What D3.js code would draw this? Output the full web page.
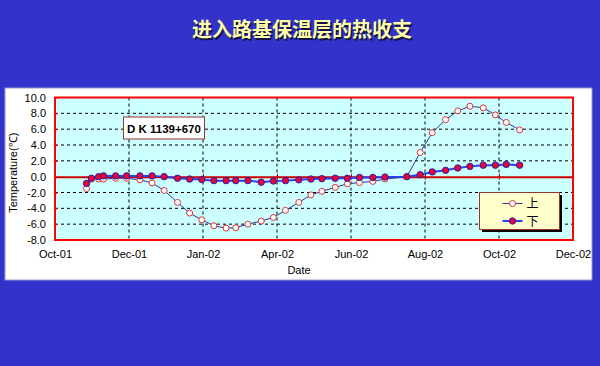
<!DOCTYPE html>
<html>
<head>
<meta charset="utf-8">
<script src="https://cdn.jsdelivr.net/npm/d3@7"></script>
<style>
  html, body { margin: 0; padding: 0; background: #3333cc; }
  svg { display: block; }
</style>
</head>
<body>
<div id="chart"></div>
<script>
// [1] DATA
const sampleDates = [
  '2001-10-27', '2001-10-31', '2001-11-06', '2001-11-10', '2001-11-20', '2001-11-29',
  '2001-12-10', '2001-12-20', '2001-12-30', '2002-01-10', '2002-01-20', '2002-01-30',
  '2002-02-09', '2002-02-19', '2002-02-27', '2002-03-09', '2002-03-20', '2002-03-30',
  '2002-04-09', '2002-04-20', '2002-04-30', '2002-05-09', '2002-05-20', '2002-05-30',
  '2002-06-09', '2002-06-20', '2002-06-30', '2002-07-18', '2002-07-29', '2002-08-08',
  '2002-08-19', '2002-08-29', '2002-09-08', '2002-09-19', '2002-09-29', '2002-10-08',
  '2002-10-19'
];
const upperValues = [
  -1.5, -0.3, -0.3, -0.3, -0.2, -0.2,
  -0.4, -0.8, -1.75, -3.25, -4.6, -5.45,
  -6.2, -6.5, -6.45, -6.0, -5.6, -5.15,
  -4.25, -3.25, -2.3, -1.85, -1.35, -0.9,
  -0.75, -0.6, -0.3, 0.0, 3.05, 5.55,
  7.2, 8.3, 8.9, 8.7, 7.8, 6.85,
  5.9
];
const lowerValues = [
  -0.85, -0.2, 0.0, 0.1, 0.1, 0.1,
  0.1, 0.1, 0.0, -0.2, -0.3, -0.35,
  -0.5, -0.5, -0.5, -0.5, -0.7, -0.55,
  -0.5, -0.4, -0.3, -0.25, -0.2, -0.2,
  -0.1, -0.1, -0.05, 0.0, 0.25, 0.6,
  0.8, 1.1, 1.3, 1.45, 1.45, 1.55,
  1.45
];
const seriesNames = ['上', '下'];
const xTickDates = ['2001-10-01', '2001-12-01', '2002-01-31', '2002-04-02', '2002-06-02', '2002-08-02', '2002-10-02', '2002-12-02'];
const yTicks = [-8, -6, -4, -2, 0, 2, 4, 6, 8, 10];
const titleText = '进入路基保温层的热收支';
const stationLabel = 'D K 1139+670';

// [2] DIMENSIONS
const width = 600;
const height = 366;
const plot = { left: 55, right: 573, top: 97.5, bottom: 240 };

const parseDate = d3.utcParse('%Y-%m-%d');
const fmtDate = d3.utcFormat('%b-%y');

const svg = d3.select('#chart').append('svg')
  .attr('width', width)
  .attr('height', height);

svg.append('rect').attr('width', width).attr('height', height).attr('fill', '#3333cc');

// title with shadow
svg.append('text')
  .attr('x', 302).attr('y', 37)
  .attr('text-anchor', 'middle')
  .attr('font-family', '"Noto Sans CJK SC", sans-serif')
  .attr('font-size', 20).attr('font-weight', 'bold')
  .attr('fill', '#111144')
  .text(titleText)
  .attr('transform', 'translate(1.5,1.5)');
svg.append('text')
  .attr('x', 302).attr('y', 37)
  .attr('text-anchor', 'middle')
  .attr('font-family', '"Noto Sans CJK SC", sans-serif')
  .attr('font-size', 20).attr('font-weight', 'bold')
  .attr('fill', '#ffffaa')
  .text(titleText);

// white chart panel
svg.append('rect')
  .attr('x', 5).attr('y', 88)
  .attr('width', 587).attr('height', 192)
  .attr('fill', '#ffffff')
  .attr('stroke', '#9999cc').attr('stroke-width', 1);

// [3] SCALES
const xScale = d3.scaleUtc()
  .domain([parseDate(xTickDates[0]), parseDate(xTickDates[xTickDates.length - 1])])
  .range([plot.left, plot.right]);
const yScale = d3.scaleLinear()
  .domain([-8, 10])
  .range([plot.bottom, plot.top]);

// plot background
svg.append('rect')
  .attr('x', plot.left).attr('y', plot.top)
  .attr('width', plot.right - plot.left).attr('height', plot.bottom - plot.top)
  .attr('fill', '#ccffff');

// gridlines
const grid = svg.append('g');
grid.selectAll('.hg').data(yTicks.filter(d => d !== 0 && d !== 10 && d !== -8)).join('line')
  .attr('x1', plot.left).attr('x2', plot.right)
  .attr('y1', d => yScale(d)).attr('y2', d => yScale(d))
  .attr('stroke', '#000').attr('stroke-width', 1).attr('stroke-dasharray', '3,3');
grid.selectAll('.vg').data(xTickDates.slice(1, -1).map(parseDate)).join('line')
  .attr('x1', d => xScale(d)).attr('x2', d => xScale(d))
  .attr('y1', plot.top).attr('y2', plot.bottom)
  .attr('stroke', '#000').attr('stroke-width', 1).attr('stroke-dasharray', '3,3');

// zero axis line with ticks
const xAxis = d3.axisBottom(xScale)
  .tickValues(xTickDates.map(parseDate))
  .tickFormat('')
  .tickSize(3)
  .tickSizeOuter(0);
const zeroAxis = svg.append('g')
  .attr('transform', `translate(0,${yScale(0)})`)
  .call(xAxis);
zeroAxis.select('.domain').attr('stroke', '#cc0000').attr('stroke-width', 2);
zeroAxis.selectAll('.tick line').attr('stroke', '#cc0000').attr('y1', -3).attr('y2', 3);

// plot border
svg.append('rect')
  .attr('x', plot.left).attr('y', plot.top)
  .attr('width', plot.right - plot.left).attr('height', plot.bottom - plot.top)
  .attr('fill', 'none')
  .attr('stroke', '#ff0000').attr('stroke-width', 2);

// y axis
const yAxis = d3.axisLeft(yScale)
  .tickValues(yTicks)
  .tickFormat(d => d.toFixed(1))
  .tickSize(-3)
  .tickPadding(9)
  .tickSizeOuter(0);
const yG = svg.append('g')
  .attr('transform', `translate(${plot.left},0)`)
  .call(yAxis);
yG.select('.domain').remove();
yG.selectAll('.tick line').attr('stroke', '#ff0000');
yG.selectAll('.tick text')
  .attr('font-family', 'Arial, "Liberation Sans", sans-serif')
  .attr('font-size', 11).attr('fill', '#000');

// x axis labels
const xLab = svg.append('g')
  .attr('transform', `translate(0,${plot.bottom})`)
  .call(d3.axisBottom(xScale)
    .tickValues(xTickDates.map(parseDate))
    .tickFormat(fmtDate)
    .tickSize(0)
    .tickPadding(10));
xLab.select('.domain').remove();
xLab.selectAll('.tick text')
  .attr('font-family', 'Arial, "Liberation Sans", sans-serif')
  .attr('font-size', 11).attr('fill', '#000');

// axis titles
svg.append('text')
  .attr('x', 299).attr('y', 274)
  .attr('text-anchor', 'middle')
  .attr('font-family', 'Arial, "Liberation Sans", sans-serif')
  .attr('font-size', 11).attr('fill', '#000')
  .text('Date');
svg.append('text')
  .attr('transform', `translate(17,${(plot.top + plot.bottom) / 2 + 4}) rotate(-90)`)
  .attr('text-anchor', 'middle')
  .attr('font-family', 'Arial, "Liberation Sans", sans-serif')
  .attr('font-size', 11).attr('fill', '#000')
  .text('Temperature(℃)');

// [4] SERIES
const rows = sampleDates.map((d, i) => ({ date: parseDate(d), up: upperValues[i], low: lowerValues[i] }));

const upperLine = d3.line().x(d => xScale(d.date)).y(d => yScale(d.up));
const lowerLine = d3.line().x(d => xScale(d.date)).y(d => yScale(d.low));

svg.append('path').datum(rows)
  .attr('d', upperLine)
  .attr('fill', 'none').attr('stroke', '#333399').attr('stroke-width', 1);
svg.selectAll('.up-dot').data(rows).join('circle')
  .attr('cx', d => xScale(d.date)).attr('cy', d => yScale(d.up))
  .attr('r', 3)
  .attr('fill', '#ffffff').attr('stroke', '#dd3333').attr('stroke-width', 1);

svg.append('path').datum(rows)
  .attr('d', lowerLine)
  .attr('fill', 'none').attr('stroke', '#2244ee').attr('stroke-width', 2);
svg.selectAll('.low-dot').data(rows).join('circle')
  .attr('cx', d => xScale(d.date)).attr('cy', d => yScale(d.low))
  .attr('r', 3.2)
  .attr('fill', '#ee0033').attr('stroke', '#2222aa').attr('stroke-width', 1);

// station label
svg.append('rect')
  .attr('x', 123.5).attr('y', 117).attr('width', 81).attr('height', 22)
  .attr('fill', '#ffffff').attr('stroke', '#993333').attr('stroke-width', 1);
svg.append('text')
  .attr('x', 164).attr('y', 132.5)
  .attr('text-anchor', 'middle')
  .attr('font-family', 'Arial, "Liberation Sans", sans-serif')
  .attr('font-size', 11.5).attr('font-weight', 'bold').attr('fill', '#000')
  .text(stationLabel);

// [5] LEGEND
const legend = svg.append('g').attr('transform', 'translate(479.5,192.5)');
legend.append('rect')
  .attr('x', 2.5).attr('y', 2.5).attr('width', 80).attr('height', 37)
  .attr('fill', '#000');
legend.append('rect')
  .attr('width', 80).attr('height', 37)
  .attr('fill', '#ffffcc').attr('stroke', '#993333').attr('stroke-width', 1);
seriesNames.forEach((name, i) => {
  const yy = 11 + i * 17.5;
  legend.append('line')
    .attr('x1', 23).attr('x2', 43).attr('y1', yy).attr('y2', yy)
    .attr('stroke', i === 0 ? '#333399' : '#2244ee').attr('stroke-width', i === 0 ? 1 : 2);
  legend.append('circle')
    .attr('cx', 33).attr('cy', yy).attr('r', i === 0 ? 3 : 3.2)
    .attr('fill', i === 0 ? '#ffffff' : '#ee0033')
    .attr('stroke', i === 0 ? '#dd3333' : '#2222aa');
  legend.append('text')
    .attr('x', 47).attr('y', yy + 4.5)
    .attr('font-family', '"Noto Sans CJK SC", sans-serif')
    .attr('font-size', 12).attr('fill', '#000')
    .text(name);
});
</script>
</body>
</html>
